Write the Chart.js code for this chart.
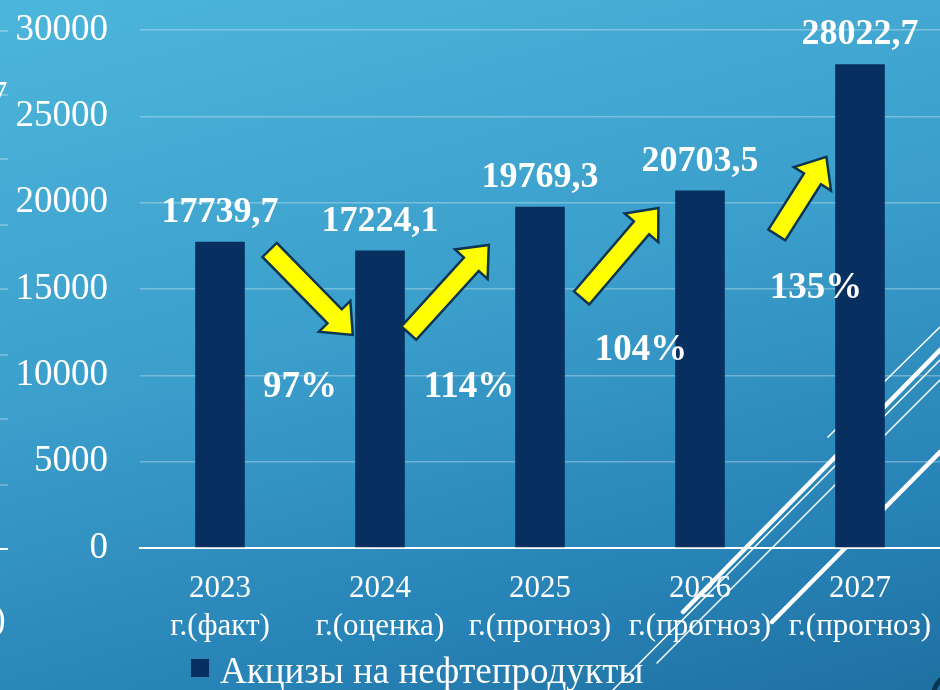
<!DOCTYPE html>
<html>
<head>
<meta charset="utf-8">
<script src="https://cdn.jsdelivr.net/npm/chart.js@4"></script>
<style>
  html, body { margin: 0; padding: 0; }
  body {
    width: 940px; height: 690px; overflow: hidden;
    background: linear-gradient(165deg, #4db6db 0%, #3b9ecb 45%, #2782b5 80%, #1f70a3 100%);
  }
</style>
</head>
<body>
<canvas id="chart" width="940" height="690"></canvas>
<script>
// data
const categories = [
  ['2023', 'г.(факт)'],
  ['2024', 'г.(оценка)'],
  ['2025', 'г.(прогноз)'],
  ['2026', 'г.(прогноз)'],
  ['2027', 'г.(прогноз)']
];
const values = [17739.7, 17224.1, 19769.3, 20703.5, 28022.7];
const seriesName = 'Акцизы на нефтепродукты';
const growthLabels = ['97%', '114%', '104%', '135%'];

const SERIF = "'Liberation Serif', 'Times New Roman', serif";
const BAR = '#072f5f';

// arrows between bars: [fromIndex, fromValue, toIndex, toValue] in axis units
const arrowSpecs = [
  [0.31, 17260, 0.83, 12340],
  [1.18, 12450, 1.68, 17550],
  [2.26, 14480, 2.74, 19690],
  [3.48, 18130, 3.79, 22650]
];
// where the growth % sit: [index, value at baseline]
const growthSpots = [[0.5, 8745], [1.556, 8745], [2.631, 10888], [3.725, 14479]];

function drawArrow(ctx, x0, y0, x1, y1) {
  const shaftW = 20, headW = 44, headL = 26;
  const len = Math.hypot(x1 - x0, y1 - y0);
  const ang = Math.atan2(y1 - y0, x1 - x0);
  ctx.save();
  ctx.translate(x0, y0);
  ctx.rotate(ang);
  ctx.beginPath();
  ctx.moveTo(0, -shaftW / 2);
  ctx.lineTo(len - headL, -shaftW / 2);
  ctx.lineTo(len - headL, -headW / 2);
  ctx.lineTo(len, 0);
  ctx.lineTo(len - headL, headW / 2);
  ctx.lineTo(len - headL, shaftW / 2);
  ctx.lineTo(0, shaftW / 2);
  ctx.closePath();
  ctx.fillStyle = '#ffff00';
  ctx.fill();
  ctx.lineWidth = 2.5;
  ctx.lineJoin = 'miter';
  ctx.strokeStyle = '#0c3552';
  ctx.stroke();
  ctx.restore();
}

// slide decoration: white diagonal strokes behind the bars
const slideLines = {
  id: 'slideLines',
  beforeDatasetsDraw(chart) {
    const ctx = chart.ctx;
    ctx.save();
    ctx.strokeStyle = '#ffffff';
    ctx.lineCap = 'round';
    const seg = (a, b, c, d, w) => {
      ctx.lineWidth = w;
      ctx.beginPath(); ctx.moveTo(a, b); ctx.lineTo(c, d); ctx.stroke();
    };
    seg(828, 437, 940, 327, 1.5);
    seg(683, 612, 940, 350, 4.5);
    seg(613, 690, 940, 360, 1.5);
    seg(657, 663, 940, 380, 1.5);
    seg(772, 622, 940, 452, 4.5);
    ctx.restore();
  }
};

const labelsPlugin = {
  id: 'labelsPlugin',
  afterDatasetsDraw(chart) {
    const ctx = chart.ctx;
    const xs = chart.scales.x, ys = chart.scales.y;
    ctx.save();
    // arrows
    arrowSpecs.forEach(a => {
      drawArrow(ctx, xs.getPixelForValue(a[0]), ys.getPixelForValue(a[1]),
                xs.getPixelForValue(a[2]), ys.getPixelForValue(a[3]));
    });
    ctx.fillStyle = '#ffffff';
    ctx.textAlign = 'center';
    ctx.textBaseline = 'alphabetic';
    // value labels
    ctx.font = 'bold 36px ' + SERIF;
    chart.getDatasetMeta(0).data.forEach((bar, i) => {
      ctx.fillText(values[i].toFixed(1).replace('.', ','), bar.x, bar.y - 20);
    });
    // growth %
    ctx.font = 'bold 37px ' + SERIF;
    growthLabels.forEach((t, i) => {
      const p = growthSpots[i];
      ctx.fillText(t, xs.getPixelForValue(p[0]), ys.getPixelForValue(p[1]));
    });
    ctx.restore();
  },
  afterDraw(chart) {
    const ctx = chart.ctx;
    ctx.save();
    // legend
    const ds = chart.data.datasets[0];
    ctx.fillStyle = ds.backgroundColor;
    ctx.fillRect(191, 659, 18, 18);
    ctx.fillStyle = '#ffffff';
    ctx.font = '37px ' + SERIF;
    ctx.textAlign = 'left';
    ctx.textBaseline = 'alphabetic';
    ctx.fillText(ds.label, 220, 683);
    // leftovers of the neighbouring chart on the slide edge
    ctx.strokeStyle = 'rgba(255,255,255,0.35)';
    ctx.lineWidth = 1.5;
    [31, 95, 159, 225, 289, 355, 419, 485].forEach(y => {
      ctx.beginPath(); ctx.moveTo(0, y); ctx.lineTo(8, y); ctx.stroke();
    });
    ctx.strokeStyle = '#ffffff';
    ctx.lineWidth = 2;
    ctx.beginPath(); ctx.moveTo(0, 549); ctx.lineTo(8, 549); ctx.stroke();
    ctx.font = '35px ' + SERIF;
    ctx.fillText('7', -10, 106);
    ctx.fillText(')', -6, 630);
    // corner ring
    ctx.strokeStyle = '#0c3552';
    ctx.lineWidth = 5;
    ctx.beginPath(); ctx.arc(952, 694, 18, Math.PI, 1.5 * Math.PI); ctx.stroke();
    ctx.restore();
  }
};

new Chart(document.getElementById('chart'), {
  type: 'bar',
  data: {
    labels: categories,
    datasets: [{
      label: seriesName,
      data: values,
      backgroundColor: BAR,
      barPercentage: 0.31,
      categoryPercentage: 1
    }]
  },
  options: {
    responsive: false,
    animation: false,
    layout: { padding: { top: 30, right: 0, left: 0, bottom: 0 } },
    scales: {
      x: {
        grid: { display: false, drawTicks: false },
        border: { display: true, color: '#ffffff', width: 2 },
        ticks: { color: '#ffffff', font: { family: SERIF, size: 31, lineHeight: 1.25 }, padding: 21, maxRotation: 0, autoSkip: false },
        afterFit: s => { s.height = 142; s.paddingLeft = 0; s.paddingRight = 0; }
      },
      y: {
        min: 0,
        max: 30000,
        ticks: { stepSize: 5000, color: '#ffffff', font: { family: SERIF, size: 37 }, padding: 32, callback: v => String(v) },
        grid: { color: 'rgba(255,255,255,0.3)', lineWidth: 1.5, drawTicks: false },
        border: { display: false },
        afterFit: s => { s.width = 140; s.paddingTop = 0; s.paddingBottom = 0; }
      }
    },
    plugins: {
      legend: { display: false },
      tooltip: { enabled: false }
    }
  },
  plugins: [slideLines, labelsPlugin]
});
</script>
</body>
</html>
